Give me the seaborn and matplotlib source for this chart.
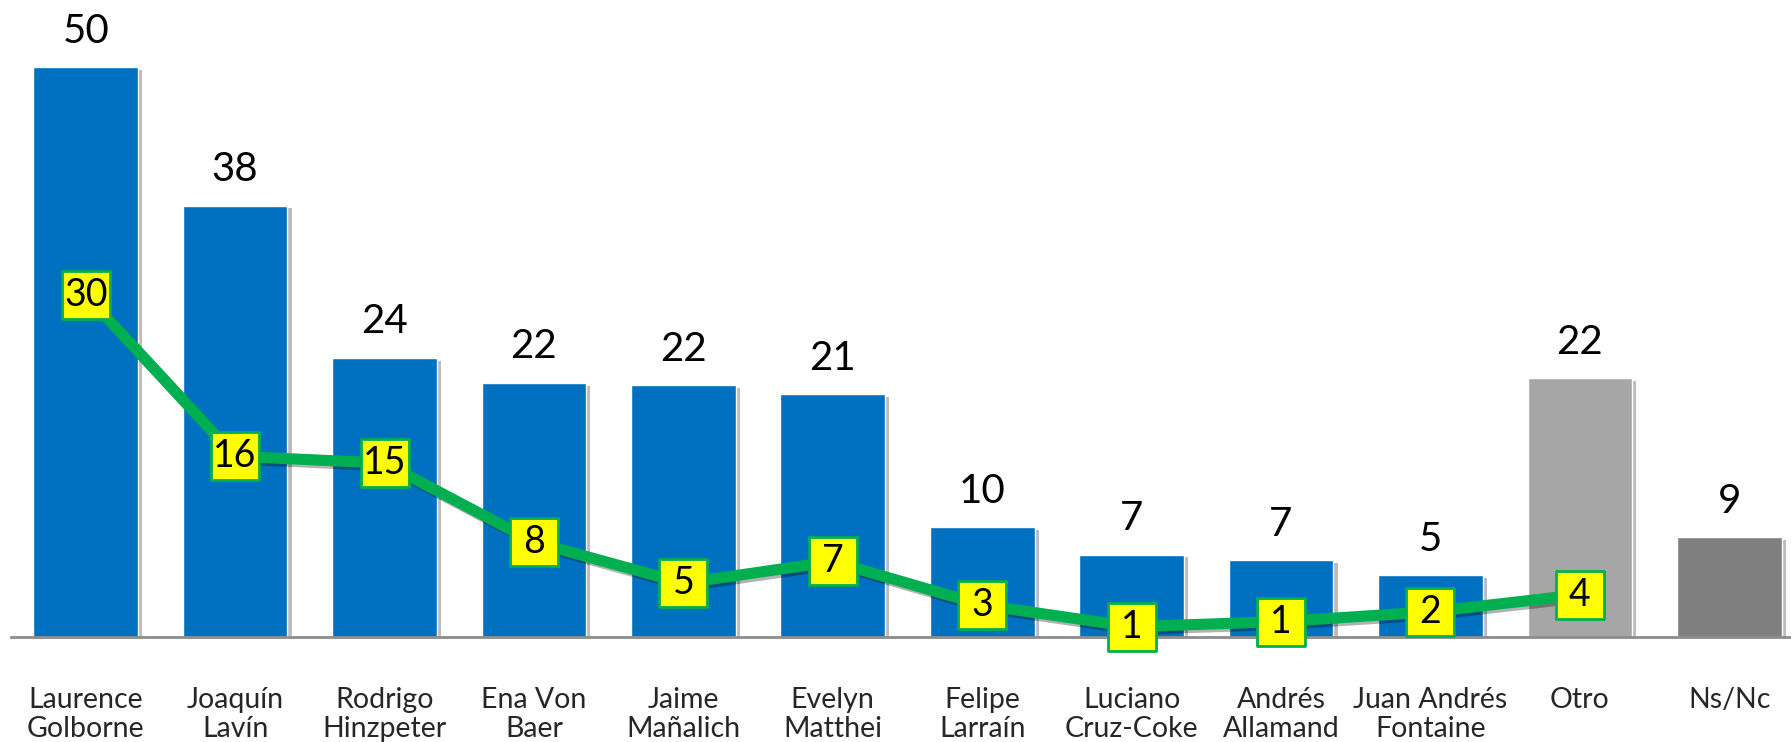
import matplotlib
matplotlib.use("Agg")
import matplotlib.pyplot as plt
import matplotlib.patheffects as pe
import numpy as np
import pandas as pd
import seaborn as sns

# Datos
categorias = ["Laurence\nGolborne", "Joaquín\nLavín", "Rodrigo\nHinzpeter", "Ena Von\nBaer",
              "Jaime\nMañalich", "Evelyn\nMatthei", "Felipe\nLarraín", "Luciano\nCruz-Coke",
              "Andrés\nAllamand", "Juan Andrés\nFontaine", "Otro", "Ns/Nc"]
barras = [49.8, 37.7, 24.4, 22.2, 22.0, 21.2, 9.6, 7.2, 6.7, 5.4, 22.6, 8.7]
etiquetas_barras = ["50", "38", "24", "22", "22", "21", "10", "7", "7", "5", "22", "9"]
linea = [29.9, 15.8, 15.2, 8.3, 4.7, 6.6, 2.8, 0.9, 1.35, 2.2, 3.7]
etiquetas_linea = ["30", "16", "15", "8", "5", "7", "3", "1", "1", "2", "4"]

colores = ["#0070C0"] * 10 + ["#A6A6A6", "#7F7F7F"]
verde = "#00B050"

sns.set_style("white")
plt.rcParams["font.family"] = ["Lato", "DejaVu Sans"]

df = pd.DataFrame({"candidato": categorias, "valor": barras})

fig = plt.figure(figsize=(17.91, 7.42), dpi=100)
ax = fig.add_axes([11 / 1791, 105 / 742, 1793 / 1791, 55 * 11.44 / 742])

sns.barplot(data=df, x="candidato", y="valor", hue="candidato", palette=colores,
            legend=False, width=0.70, saturation=1, ax=ax)
for p in ax.patches:
    p.set_path_effects([pe.SimplePatchShadow(offset=(3, -2), shadow_rgbFace="#555555", alpha=0.4),
                        pe.Normal()])

for i, (v, t) in enumerate(zip(barras, etiquetas_barras)):
    ax.annotate(t, (i, v), xytext=(0, 26), textcoords="offset points",
                ha="center", va="center", fontsize=29, color="black")

pos = np.arange(len(linea))
sns.lineplot(x=pos, y=linea, color=verde, linewidth=8, ax=ax, zorder=3,
             path_effects=[pe.SimpleLineShadow(offset=(2, -2), alpha=0.3), pe.Normal()])
ax.lines[-1].set_clip_on(False)
sns.scatterplot(x=pos, y=linea, marker="s", s=35 ** 2, color="#FFFF00",
                edgecolor=verde, linewidth=2, ax=ax, zorder=4, clip_on=False)
for i, (v, t) in enumerate(zip(linea, etiquetas_linea)):
    ax.text(i, v, t, ha="center", va="center", fontsize=27, color="black", zorder=5)

ax.set_xlim(-0.5, len(categorias) - 0.5)
ax.set_ylim(0, 55)
ax.set_xlabel("")
ax.set_ylabel("")
ax.set_yticks([])
for s in ["top", "right", "left"]:
    ax.spines[s].set_visible(False)
ax.spines["bottom"].set_color("#8C8C8C")
ax.spines["bottom"].set_linewidth(2)
ax.set_xticks(np.arange(-0.5, len(categorias)), minor=True)
ax.tick_params(axis="x", which="minor", length=8, width=1.5, color="#8C8C8C", direction="out")
ax.tick_params(axis="x", which="major", length=0, pad=36, labelsize=20.5)
for lbl in ax.get_xticklabels():
    lbl.set_linespacing(1.15)
    lbl.set_va("top")

fig.savefig("out.png", dpi=100)
